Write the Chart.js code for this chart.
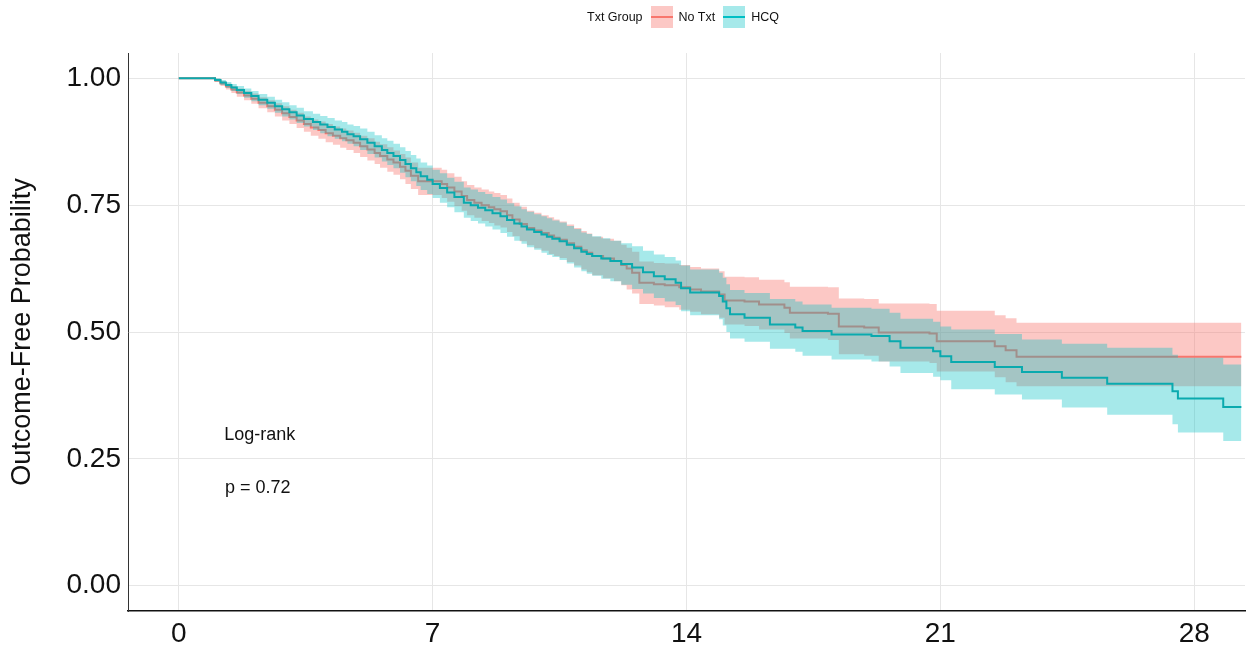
<!DOCTYPE html>
<html>
<head>
<meta charset="utf-8">
<script src="https://cdn.jsdelivr.net/npm/chart.js@4.4.1/dist/chart.umd.min.js"></script>
<style>
  body { margin:0; background:#fff; font-family:'Liberation Sans', Arial, sans-serif; }
  #wrap { position:relative; width:1247px; height:654px; }
  #legend { position:absolute; left:587px; top:6px; display:flex; align-items:center; font-size:12.5px; color:#111; }
  .key { width:22px; height:22px; position:relative; margin:0 6px 0 8px; }
  .key span { position:absolute; left:0; right:0; top:10px; height:2px; }
</style>
</head>
<body>
<div id="wrap">
  <canvas id="km" width="1247" height="654"></canvas>
  <div id="legend">
    <span>Txt Group</span>
    <div class="key" style="background:rgba(248,118,109,0.4)"><span style="background:#F8766D"></span></div>
    <span>No Txt</span>
    <div class="key" style="background:rgba(0,191,196,0.35)"><span style="background:#00BFC4"></span></div>
    <span>HCQ</span>
  </div>
</div>
<script>
// axis setup
const xTicks = [0, 7, 14, 21, 28];
const yTicks = [0, 0.25, 0.5, 0.75, 1.0];
const xRange = [-1.4, 29.4];
const yRange = [-0.05, 1.05];

// No Txt group (KM estimate + 95% band)
const noTxtTime = [0, 1.0, 1.15, 1.3, 1.45, 1.6, 1.8, 2.0, 2.2, 2.44, 2.65, 2.85, 3.05, 3.25, 3.45, 3.64, 3.85, 4.05, 4.25, 4.45, 4.62, 4.82, 5.0, 5.2, 5.4, 5.55, 5.75, 5.92, 6.1, 6.25, 6.4, 6.6, 7.25, 7.4, 7.6, 7.8, 7.95, 8.15, 8.35, 8.55, 8.7, 8.87, 9.05, 9.2, 9.4, 9.6, 9.8, 10.0, 10.2, 10.35, 10.5, 10.7, 10.9, 11.1, 11.25, 11.4, 11.7, 12.0, 12.2, 12.35, 12.5, 12.7, 13.1, 13.4, 13.8, 14.1, 14.4, 14.9, 15.05, 15.6, 16.0, 16.7, 16.85, 17.9, 18.2, 18.9, 19.3, 20.7, 20.9, 22.5, 22.8, 23.1, 29.3];
const noTxtSurv = [1.000, 0.996, 0.990, 0.984, 0.978, 0.972, 0.966, 0.960, 0.952, 0.945, 0.938, 0.931, 0.924, 0.917, 0.910, 0.903, 0.898, 0.892, 0.887, 0.882, 0.878, 0.873, 0.866, 0.860, 0.853, 0.847, 0.840, 0.834, 0.826, 0.818, 0.808, 0.797, 0.792, 0.785, 0.777, 0.768, 0.760, 0.755, 0.750, 0.746, 0.742, 0.738, 0.730, 0.722, 0.713, 0.705, 0.700, 0.695, 0.690, 0.686, 0.682, 0.675, 0.668, 0.661, 0.656, 0.650, 0.645, 0.640, 0.632, 0.625, 0.617, 0.597, 0.594, 0.592, 0.588, 0.584, 0.580, 0.574, 0.562, 0.560, 0.554, 0.548, 0.538, 0.536, 0.511, 0.509, 0.499, 0.497, 0.482, 0.472, 0.464, 0.451, 0.451];
const noTxtUpper = [1.000, 0.999, 0.995, 0.990, 0.985, 0.980, 0.975, 0.970, 0.963, 0.957, 0.951, 0.945, 0.938, 0.932, 0.925, 0.919, 0.915, 0.910, 0.905, 0.901, 0.897, 0.893, 0.887, 0.882, 0.875, 0.870, 0.864, 0.858, 0.851, 0.844, 0.834, 0.824, 0.820, 0.813, 0.806, 0.797, 0.790, 0.785, 0.781, 0.777, 0.774, 0.770, 0.763, 0.755, 0.747, 0.739, 0.735, 0.730, 0.726, 0.722, 0.718, 0.712, 0.705, 0.699, 0.694, 0.688, 0.684, 0.680, 0.672, 0.666, 0.658, 0.639, 0.636, 0.635, 0.632, 0.628, 0.625, 0.620, 0.609, 0.608, 0.603, 0.598, 0.589, 0.588, 0.566, 0.565, 0.556, 0.555, 0.542, 0.533, 0.527, 0.518, 0.518];
const noTxtLower = [1.000, 0.993, 0.985, 0.978, 0.971, 0.964, 0.957, 0.950, 0.941, 0.933, 0.925, 0.917, 0.910, 0.902, 0.895, 0.887, 0.881, 0.874, 0.869, 0.863, 0.859, 0.853, 0.845, 0.838, 0.831, 0.824, 0.816, 0.810, 0.801, 0.792, 0.782, 0.770, 0.764, 0.757, 0.748, 0.739, 0.730, 0.725, 0.719, 0.715, 0.710, 0.706, 0.697, 0.689, 0.679, 0.671, 0.665, 0.660, 0.654, 0.650, 0.646, 0.638, 0.631, 0.623, 0.618, 0.612, 0.606, 0.600, 0.592, 0.584, 0.576, 0.555, 0.552, 0.549, 0.544, 0.540, 0.535, 0.528, 0.515, 0.512, 0.505, 0.498, 0.487, 0.484, 0.456, 0.453, 0.442, 0.439, 0.422, 0.411, 0.401, 0.393, 0.393];

// HCQ group
const hcqTime = [0, 1.0, 1.15, 1.3, 1.45, 1.6, 1.8, 2.0, 2.2, 2.44, 2.65, 2.85, 3.05, 3.25, 3.45, 3.7, 3.9, 4.1, 4.3, 4.5, 4.65, 4.82, 5.0, 5.2, 5.4, 5.6, 5.75, 5.92, 6.1, 6.25, 6.4, 6.55, 6.67, 6.85, 7.0, 7.2, 7.4, 7.6, 7.86, 8.05, 8.25, 8.45, 8.65, 8.87, 9.05, 9.25, 9.45, 9.6, 9.8, 10.0, 10.15, 10.3, 10.5, 10.7, 10.9, 11.1, 11.25, 11.4, 11.65, 11.9, 12.2, 12.5, 12.8, 13.1, 13.4, 13.7, 13.85, 14.1, 14.9, 15.0, 15.1, 15.2, 15.6, 16.3, 17.0, 17.2, 18.0, 19.1, 19.6, 19.9, 20.8, 21.0, 21.3, 22.5, 23.25, 24.35, 25.6, 27.4, 27.55, 28.8, 29.3];
const hcqSurv = [1.000, 0.997, 0.992, 0.987, 0.982, 0.977, 0.971, 0.965, 0.958, 0.952, 0.945, 0.939, 0.933, 0.927, 0.920, 0.914, 0.909, 0.904, 0.899, 0.895, 0.890, 0.886, 0.880, 0.873, 0.866, 0.859, 0.853, 0.847, 0.839, 0.831, 0.823, 0.815, 0.807, 0.800, 0.792, 0.784, 0.775, 0.766, 0.755, 0.750, 0.745, 0.740, 0.734, 0.728, 0.721, 0.714, 0.708, 0.702, 0.697, 0.692, 0.688, 0.684, 0.679, 0.672, 0.665, 0.658, 0.654, 0.650, 0.645, 0.640, 0.634, 0.627, 0.618, 0.610, 0.604, 0.597, 0.586, 0.578, 0.571, 0.560, 0.547, 0.535, 0.528, 0.515, 0.509, 0.502, 0.495, 0.492, 0.482, 0.469, 0.462, 0.452, 0.441, 0.431, 0.421, 0.410, 0.398, 0.383, 0.369, 0.352, 0.352];
const hcqUpper = [1.000, 1.000, 0.997, 0.993, 0.989, 0.985, 0.980, 0.975, 0.969, 0.964, 0.958, 0.953, 0.947, 0.942, 0.935, 0.930, 0.926, 0.922, 0.917, 0.914, 0.909, 0.906, 0.901, 0.895, 0.888, 0.882, 0.877, 0.871, 0.864, 0.857, 0.849, 0.842, 0.834, 0.828, 0.820, 0.813, 0.804, 0.796, 0.785, 0.781, 0.776, 0.772, 0.766, 0.761, 0.754, 0.748, 0.742, 0.737, 0.732, 0.728, 0.724, 0.720, 0.716, 0.709, 0.703, 0.696, 0.693, 0.689, 0.685, 0.680, 0.675, 0.669, 0.660, 0.653, 0.648, 0.641, 0.631, 0.623, 0.617, 0.607, 0.594, 0.583, 0.577, 0.565, 0.560, 0.554, 0.548, 0.546, 0.538, 0.526, 0.520, 0.511, 0.505, 0.496, 0.485, 0.477, 0.469, 0.455, 0.449, 0.436, 0.436];
const hcqLower = [1.000, 0.994, 0.987, 0.981, 0.975, 0.969, 0.962, 0.955, 0.947, 0.940, 0.932, 0.925, 0.919, 0.912, 0.905, 0.898, 0.892, 0.886, 0.881, 0.876, 0.871, 0.866, 0.859, 0.851, 0.844, 0.836, 0.829, 0.823, 0.814, 0.805, 0.797, 0.788, 0.780, 0.772, 0.764, 0.755, 0.746, 0.736, 0.725, 0.719, 0.714, 0.708, 0.702, 0.695, 0.688, 0.680, 0.674, 0.667, 0.662, 0.656, 0.652, 0.648, 0.642, 0.635, 0.627, 0.620, 0.615, 0.611, 0.605, 0.600, 0.593, 0.585, 0.576, 0.567, 0.560, 0.553, 0.541, 0.533, 0.525, 0.513, 0.500, 0.487, 0.481, 0.467, 0.461, 0.453, 0.446, 0.442, 0.432, 0.419, 0.412, 0.405, 0.387, 0.377, 0.367, 0.351, 0.337, 0.318, 0.302, 0.285, 0.285];

// log-rank annotation
const annoLines = ['Log-rank', 'p = 0.72'];
const annoX = [2.23, 2.18];
const annoY = [0.296, 0.193];

const RED = '#F8766D', TEAL = '#0AAAAE';
const pts = (xs, ys) => xs.map((x, i) => ({x, y: ys[i]}));

const base = { stepped: true, pointRadius: 0, pointHoverRadius: 0, tension: 0 };
const datasets = [
  Object.assign({}, base, { label:'noTxtLower', data: pts(noTxtTime, noTxtLower), borderWidth:0, fill:false, order:3 }),
  Object.assign({}, base, { label:'noTxtUpper', data: pts(noTxtTime, noTxtUpper), borderWidth:0, fill:'-1', backgroundColor:'rgba(248,118,109,0.4)', order:3 }),
  Object.assign({}, base, { label:'No Txt', data: pts(noTxtTime, noTxtSurv), borderColor:RED, borderWidth:2, fill:false, order:2 }),
  Object.assign({}, base, { label:'hcqLower', data: pts(hcqTime, hcqLower), borderWidth:0, fill:false, order:1 }),
  Object.assign({}, base, { label:'hcqUpper', data: pts(hcqTime, hcqUpper), borderWidth:0, fill:'-1', backgroundColor:'rgba(0,191,196,0.35)', order:1 }),
  Object.assign({}, base, { label:'HCQ', data: pts(hcqTime, hcqSurv), borderColor:TEAL, borderWidth:2, fill:false, order:0 }),
];

const annoPlugin = {
  id: 'anno',
  afterDatasetsDraw(chart){
    const {ctx, scales:{x, y}} = chart;
    ctx.save();
    ctx.font = "18px 'Liberation Sans', Arial, sans-serif";
    ctx.fillStyle = '#111';
    ctx.textAlign = 'center';
    ctx.textBaseline = 'middle';
    annoLines.forEach((t, i) => ctx.fillText(t, x.getPixelForValue(annoX[i]), y.getPixelForValue(annoY[i])));
    ctx.restore();
  }
};

const tickFont = { family:"'Liberation Sans', Arial, sans-serif", size:28 };

new Chart(document.getElementById('km'), {
  type: 'line',
  data: { datasets },
  options: {
    responsive: false,
    animation: false,
    layout: { padding: { top:53, right:2, left:0, bottom:0 } },
    plugins: { legend:{ display:false }, tooltip:{ enabled:false } },
    scales: {
      x: {
        type: 'linear', min: xRange[0], max: xRange[1],
        afterBuildTicks: s => { s.ticks = xTicks.map(v => ({value:v})); },
        afterFit: s => { s.height = 43; },
        grid: { color:'#e6e6e6', lineWidth:1, drawTicks:false },
        border: { display:true, color:'#111', width:1.5 },
        ticks: { font: tickFont, color:'#111', padding:6, maxRotation:0, callback: v => String(v) }
      },
      y: {
        type: 'linear', min: yRange[0], max: yRange[1],
        afterBuildTicks: s => { s.ticks = yTicks.map(v => ({value:v})); },
        afterFit: s => { s.width = 128; },
        grid: { color:'#e6e6e6', lineWidth:1, drawTicks:false },
        border: { display:true, color:'#333', width:1 },
        ticks: { font: tickFont, color:'#111', padding:7, callback: v => Number(v).toFixed(2) },
        title: { display:true, text:'Outcome-Free Probability', color:'#111',
                 font:{ family:"'Liberation Sans', Arial, sans-serif", size:27 }, padding:{ top:6, bottom:0 } }
      }
    }
  },
  plugins: [annoPlugin]
});
</script>
</body>
</html>
